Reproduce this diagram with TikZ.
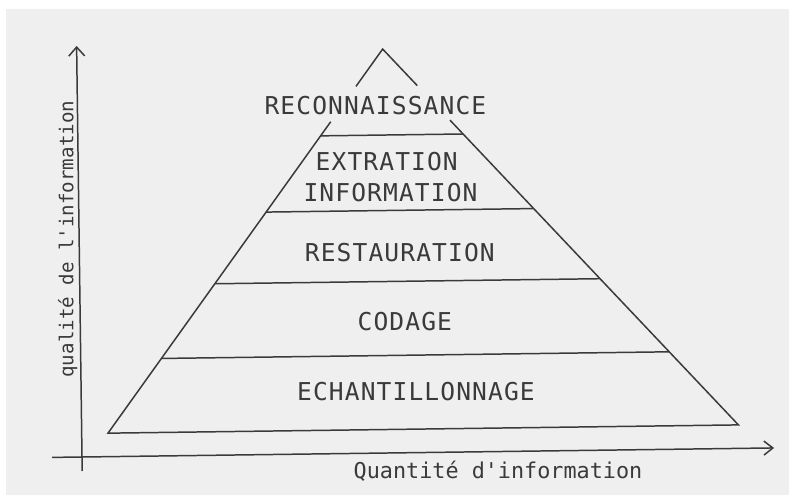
\documentclass[tikz,border=0pt]{standalone}
\usepackage{fontspec}
\usepackage{tikz}
\usepackage{color}
\setmonofont{DejaVu Sans Mono}
\newfontfamily\layerfont{DejaVu Sans Mono}[LetterSpace=4.5]
\definecolor{ink}{RGB}{58,58,58}
\definecolor{paper}{RGB}{239,239,239}

\begin{document}
\begin{tikzpicture}[x=0.02cm, y=0.02cm]
		\tikzstyle{every node}+=[inner sep=0pt, text=ink]
		\tikzstyle{layer}=[font=\layerfont\fontsize{14}{16}\selectfont]
		\tikzstyle{xlabel}=[font=\ttfamily\fontsize{12.4}{14}\selectfont]
		\tikzstyle{ylabel}=[font=\ttfamily\fontsize{10.9}{13}\selectfont, rotate=90]
		\useasboundingbox (-82,-38) rectangle (707,457);
		\fill [white] (-82,-38) rectangle (707,457);
		\fill [paper] (-76,-38) rectangle (707,448);
		\begin{scope}[rotate=0.75, line width=0.85pt]
		% axes
		\coordinate (ytip) at (0,410);
		\coordinate (xtip) at (691,0);
		\draw [ink] (0,-14) -- (ytip);
		\draw [ink] (-8,401) -- (ytip) -- (8,401);
		\draw [ink] (-30,0) -- (xtip);
		\draw [ink] (682,7) -- (xtip) -- (682,-7);
		\node [xlabel] (quant) at (415.8,-20) {Quantité d'information};
		\node [ylabel] (qual) at (-11.3,218) {qualité de l'information};
		% pyramid
		\coordinate (apex) at (306,404);
		\draw [ink] (278.8,367) -- (apex) -- (340.1,367);
		\draw [ink] (253.1,332) -- (26.3,23.5) -- (656.8,23.5) -- (372.4,332);
		\draw [ink] (242.8,318) -- (385.3,318);
		\draw [ink] (187.3,242.5) -- (454.9,242.5);
		\draw [ink] (135.1,171.5) -- (520.4,171.5);
		\draw [ink] (80.7,97.5) -- (588.6,97.5);
		% layers
		\node [layer] (reco) at (298,347.4) {RECONNAISSANCE};
		\node [layer] (extr) at (308.6,291.3) {EXTRATION};
		\node [layer] (info) at (312,260) {INFORMATION};
		\node [layer] (rest) at (320.5,200) {RESTAURATION};
		\node [layer] (coda) at (324.6,131) {CODAGE};
		\node [layer] (echa) at (334.8,60.9) {ECHANTILLONNAGE};
		\end{scope}
\end{tikzpicture}
\end{document}
